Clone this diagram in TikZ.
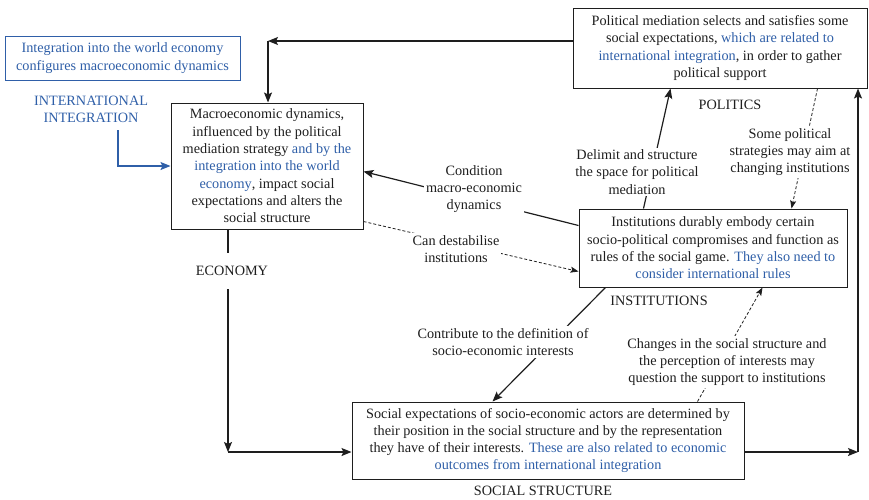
\documentclass[tikz,border=0pt]{standalone}
\usepackage{fontspec}
\setmainfont{Liberation Serif}
\usetikzlibrary{arrows.meta,calc}
\definecolor{ibl}{RGB}{47,95,168}
\definecolor{ink}{RGB}{30,30,30}
\begin{document}
\begin{tikzpicture}[x=1pt,y=-1pt,
  every node/.style={font=\fontsize{14.25}{17.3}\selectfont, align=center, inner sep=0pt, text=ink},
  box/.style={draw=ink, line width=1pt, fill=white},
  lbl/.style={fill=white, inner xsep=2pt, inner ysep=2pt},
  arr/.style={draw=ink, line width=1.2pt, -{Stealth[length=10pt,width=8pt,inset=2pt]}},
  dsh/.style={draw=ink, line width=0.8pt, dash pattern=on 3pt off 2pt, -{Stealth[length=8pt,width=6pt,inset=1.5pt]}}]
\useasboundingbox (0,0) rectangle (869,499);

% boxes
\node[box, draw=ibl, text=ibl, minimum width=235pt, minimum height=44pt] (world) at (122.5,58)
  {Integration into the world economy\\configures macroeconomic dynamics};
\node[text=ibl] (intl) at (91,109.5) {INTERNATIONAL\\INTEGRATION};
\node[box, minimum width=192pt, minimum height=126pt] (econ) at (267,166)
  {Macroeconomic dynamics,\\influenced by the political\\mediation strategy \textcolor{ibl}{and by the}\\\textcolor{ibl}{integration into the world}\\\textcolor{ibl}{economy}, impact social\\expectations and alters the\\social structure};
\node[box, minimum width=294pt, minimum height=80pt] (politics) at (720,48)
  {Political mediation selects and satisfies some\\social expectations, \textcolor{ibl}{which are related to}\\\textcolor{ibl}{international integration}, in order to gather\\political support};
\node[box, minimum width=268pt, minimum height=78pt] (inst) at (713,248)
  {Institutions durably embody certain\\socio-political compromises and function as\\rules of the social game. \textcolor{ibl}{They also need to}\\\textcolor{ibl}{consider international rules}};
\node[box, minimum width=392pt, minimum height=77pt] (social) at (548,440.5)
  {Social expectations of socio-economic actors are determined by\\their position in the social structure and by the representation\\they have of their interests. \textcolor{ibl}{These are also related to economic}\\\textcolor{ibl}{outcomes from international integration}};

% corner points
\coordinate (c1) at (228,452);
\coordinate (c2) at (858,452);
\coordinate (c3) at (268,41);
\coordinate (c4) at (118,130);

% loop connectors
\draw[arr] (econ.south -| c1) -- (c1);
\draw[arr] (c1) -- (c1 -| social.west);
\draw[arr] (social.east |- c2) -- (c2);
\draw[arr] (c2) -- (c2 |- politics.south);
\draw[arr] (politics.west |- c3) -- (c3);
\draw[arr] (c3) -- (c3 |- econ.north);
\draw[arr, draw=ibl] (c4) |- (econ.west);

% diagonal connectors
\draw[arr] ($(inst.north west)+(65,0)$) -- ($(politics.south west)+(98,0)$);
\draw[dsh] ($(politics.south west)+(245,0)$) -- ($(inst.north west)+(213,0)$);
\draw[arr] ($(inst.north west)+(0,17)$) -- ($(econ.north east)+(0,69)$);
\draw[dsh] ($(econ.north east)+(0,119)$) -- ($(inst.north west)+(0,63)$);
\draw[arr] ($(inst.south west)+(27,0)$) -- ($(social.north west)+(141,0)$);
\draw[dsh] ($(social.north west)+(346,0)$) -- ($(inst.south west)+(184,0)$);

% labels
\node[lbl] (lDelimit) at (637,172) {Delimit and structure\\the space for political\\mediation};
\node[lbl] (lSome) at (790,152) {Some political\\strategies may aim at\\changing institutions};
\node[lbl] (lCond) at (474,189) {Condition\\macro-economic\\dynamics};
\node[lbl] (lDest) at (456,249) {Can destabilise\\institutions};
\node[lbl] (lContr) at (503,342) {Contribute to the definition of\\socio-economic interests};
\node[lbl] (lChange) at (727,362) {Changes in the social structure and\\the perception of interests may\\question the support to institutions};
\node[fill=white, inner xsep=3pt, inner ysep=13pt] (lEcon) at (232,271) {ECONOMY};
\node (lPol) at (730,105) {POLITICS};
\node (lInst) at (659,301) {INSTITUTIONS};
\node (lSoc) at (543,491) {SOCIAL STRUCTURE};
\end{tikzpicture}
\end{document}
